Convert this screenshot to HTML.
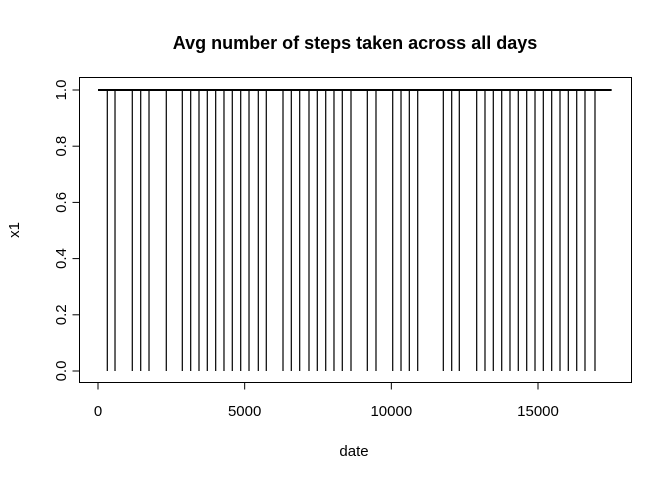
<!DOCTYPE html>
<html><head><meta charset="utf-8"><style>
html,body{margin:0;padding:0;background:#fff;}
svg text{font-family:"Liberation Sans",Arial,sans-serif;}
</style></head><body>
<svg id="chart" width="672" height="480" xmlns="http://www.w3.org/2000/svg">
<text x="355" y="49" text-anchor="middle" font-size="18" font-weight="bold">Avg number of steps taken across all days</text>
<rect x="79.5" y="77.5" width="552" height="305" fill="none" stroke="#000" stroke-width="1"/>
<text x="354" y="456" text-anchor="middle" font-size="15">date</text>
<text transform="translate(19,230) rotate(-90)" text-anchor="middle" font-size="15">x1</text>
<g id="axes"></g>
<g id="series"></g>
</svg>
<script>
const xTicks = [0, 5000, 10000, 15000];
const yTicks = [0.0, 0.2, 0.4, 0.6, 0.8, 1.0];
const xStart = 1;
const xEnd = 17509;
const dropDates = [317,580,1169,1456,1739,2328,2874,3160,3443,3726,4012,4295,4578,4865,5148,5465,5737,6307,6590,6876,7193,7476,7763,8045,8328,8625,9181,9477,10047,10330,10613,10899,11772,12058,12317,12910,13193,13476,13763,14045,14328,14615,14898,15181,15467,15750,16033,16320,16602,16943];
const baseValue = 1;
const dropValue = 0;

const NS = "http://www.w3.org/2000/svg";
const xs = v => 98 + v * (440 / 15000);
const ys = v => 371 - v * 281;
const axesG = document.getElementById('axes');
const seriesG = document.getElementById('series');
function mk(tag, attrs, parent) {
  const e = document.createElementNS(NS, tag);
  for (const k in attrs) e.setAttribute(k, attrs[k]);
  parent.appendChild(e);
  return e;
}
const xa = mk('line', {x1: xs(xTicks[0]), x2: xs(xTicks[xTicks.length-1]), y1: 382.5, y2: 382.5, stroke: '#000'}, axesG);


xTicks.forEach(t => {
  const l = mk('line', {x1: xs(t), x2: xs(t), y1: 382.5, y2: 389.5, stroke: '#000'}, axesG);
  
  
  const tx = mk('text', {x: xs(t), y: 416, 'text-anchor': 'middle', 'font-size': 15}, axesG);
  tx.textContent = t;
  
  
});
const ya = mk('line', {x1: 79.5, x2: 79.5, y1: ys(yTicks[0]), y2: ys(yTicks[yTicks.length-1]), stroke: '#000'}, axesG);


yTicks.forEach(t => {
  const y = ys(t);
  const l = mk('line', {x1: 72.5, x2: 79.5, y1: y, y2: y, stroke: '#000'}, axesG);
  
  
  const tx = mk('text', {transform: `translate(66,${y}) rotate(-90)`, 'text-anchor': 'middle', 'font-size': 15}, axesG);
  tx.textContent = t.toFixed(1);
  
  
});
let d = `M${xs(xStart)},${ys(baseValue)}`;
dropDates.forEach(x => {
  d += ` L${xs(x)},${ys(baseValue)} L${xs(x)},${ys(dropValue)} L${xs(x)},${ys(baseValue)}`;
});
d += ` L${xs(xEnd)},${ys(baseValue)}`;
const seriesPath = mk('path', {d: d, fill: 'none', stroke: '#000', 'stroke-width': 1.2}, seriesG);


const baseLine = mk('line', {x1: xs(xStart), x2: xs(xEnd), y1: ys(baseValue), y2: ys(baseValue), stroke: '#000', 'stroke-width': 2}, seriesG);


</script>
</body></html>
